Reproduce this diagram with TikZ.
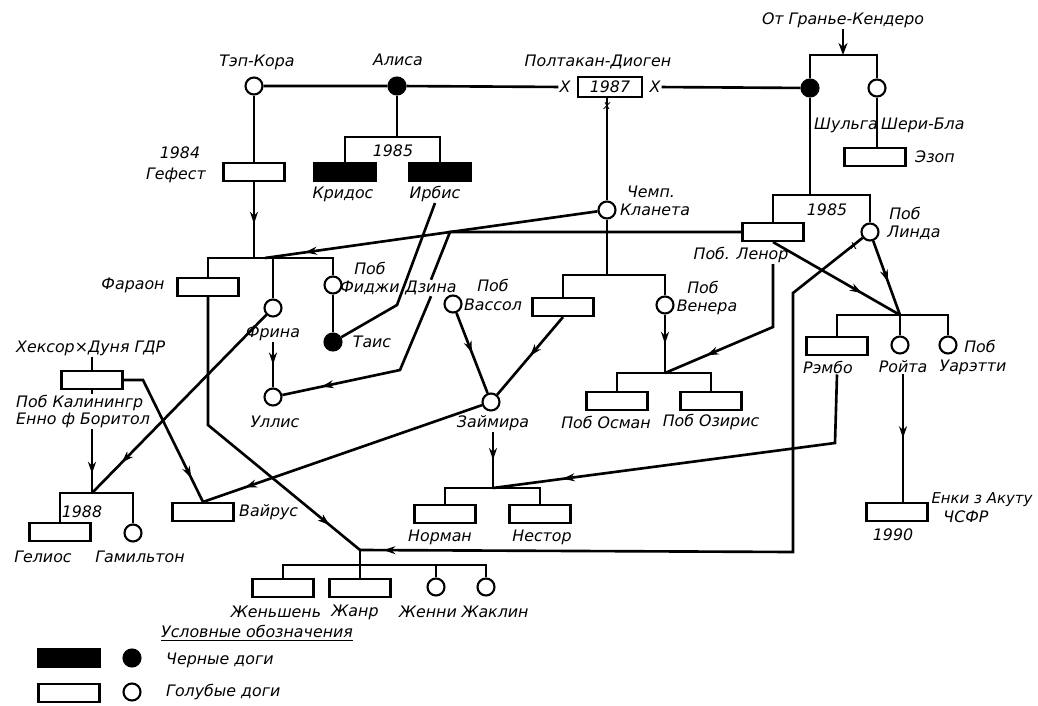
\documentclass[tikz,border=0pt]{standalone}
\usepackage{fontspec}
\setmainfont{DejaVu Sans}
\usetikzlibrary{arrows.meta,positioning,decorations.markings}

\tikzset{
  dog/.style={draw, line width=1.2pt, minimum width=1.22cm, minimum height=0.36cm, inner sep=0pt, fill=white, font=\fontsize{9}{10}\selectfont\itshape},
  bdog/.style={dog, fill=black},
  bitch/.style={circle, draw, line width=1.2pt, minimum size=0.34cm, inner sep=0pt, fill=white},
  bbitch/.style={bitch, fill=black},
  lbl/.style={font=\fontsize{9}{10}\selectfont\itshape, inner sep=0.5pt},
  pedline/.style={line width=1.5pt},
  midarr/.style={postaction={decorate}, decoration={markings, mark=at position #1 with {\arrow{Stealth[length=2.4mm,width=1.6mm]}}}},
  midarr/.default=0.5
}

\begin{document}
\begin{tikzpicture}[x=0.02cm, y=-0.02cm]
  \useasboundingbox (0,0) rectangle (1038,706);

  % top row
  \node[bitch] (tepkora) at (254,86) {};
  \node[bbitch] (alisa) at (397,86) {};
  \node[dog, minimum width=1.28cm, minimum height=0.4cm] (diogen) at (610,87) {1987};
  \node[lbl] (xL) at (565,87) {X};
  \node[lbl] (xR) at (655,87) {X};
  \node[bbitch] (shulga) at (810,88) {};
  \node[bitch] (sheri) at (877,88) {};
  \node[dog] (ezop) at (875,157) {};
  \node[lbl] (tepkoraL) at (257,62) {Тэп-Кора};
  \node[lbl] (alisaL) at (398,60) {Алиса};
  \node[lbl] (diogenL) at (598,62) {Полтакан-Диоген};
  \node[lbl] (granL) at (843,20) {От Гранье-Кендеро};
  \node[lbl, anchor=west] (shulgaL) at (813,125) {Шульга};
  \node[lbl, anchor=west] (sheriL) at (880,125) {Шери-Бла};
  \node[lbl, anchor=west] (ezopL) at (914,157) {Эзоп};
  \coordinate (brkL) at (810,55);
  \coordinate (brkM) at (843,55);
  \coordinate (brkR) at (877,55);

  % litter of Alisa
  \coordinate (jAlisa) at (397,137);
  \node[bdog] (kridos) at (345,172) {};
  \node[bdog] (irbis) at (440,172) {};
  \node[lbl] (alisaY) at (393,151) {1985};
  \node[lbl] (kridosL) at (343,194) {Кридос};
  \node[lbl] (irbisL) at (435,194) {Ирбис};

  % Tep-Kora line
  \node[dog] (gefest) at (254,172) {};
  \node[lbl] (gefestY) at (180,153) {1984};
  \node[lbl] (gefestL) at (176,175) {Гефест};
  \coordinate (jTep) at (254,258);
  \coordinate (jTepK) at (265,258);
  \node[dog] (faraon) at (208,287) {};
  \node[lbl] (faraonL) at (133,285) {Фараон};
  \node[bitch] (frina) at (273,308) {};
  \node[lbl] (frinaL) at (273,333) {Фрина};
  \node[bitch] (fidzhi) at (333,285) {};
  \node[lbl] (fidzhiP) at (370,268) {Поб};
  \node[lbl] (fidzhiL) at (370,288) {Фиджи};
  \node[bbitch] (tais) at (333,342) {};
  \node[lbl] (taisL) at (372,342) {Таис};
  \node[bitch] (ullis) at (273,397) {};
  \node[lbl] (ullisL) at (275,422) {Уллис};
  \node[lbl] (dzinaL) at (431,288) {Дзина};
  \coordinate (irbK) at (397,305);
  \coordinate (dzK) at (400,370);
  \coordinate (farK) at (208,425);

  % Klaneta line
  \node[bitch] (klaneta) at (607,210) {};
  \node[lbl] (klanetaP) at (651,192) {Чемп.};
  \node[lbl] (klanetaL) at (655,210) {Кланета};
  \node[lbl, font=\fontsize{7}{8}\selectfont\itshape, inner sep=0pt] (xB) at (607,106) {x};
  \coordinate (jKlan) at (607,275);
  \node[dog] (kbox) at (563,307) {};
  \node[bitch] (venera) at (665,305) {};
  \node[lbl] (veneraP) at (703,287) {Поб};
  \node[lbl] (veneraL) at (707,307) {Венера};
  \node[bitch] (vassol) at (453,304) {};
  \node[lbl] (vassolP) at (493,285) {Поб};
  \node[lbl] (vassolL) at (493,305) {Вассол};
  \node[bitch] (zaimira) at (491,402) {};
  \node[lbl] (zaimiraL) at (493,423) {Займира};
  \coordinate (jVen) at (665,373);
  \node[dog] (osman) at (617,401) {};
  \node[dog] (oziris) at (711,401) {};
  \node[lbl] (osmanL) at (606,422) {Поб Осман};
  \node[lbl] (ozirisL) at (711,422) {Поб Озирис};

  % Shulga line
  \coordinate (jShul) at (810,195);
  \node[lbl] (shulgaY) at (827,210) {1985};
  \node[dog] (lenor) at (773,232) {};
  \node[lbl] (lenorL) at (741,255) {Поб. Ленор};
  \node[bitch] (linda) at (870,232) {};
  \node[lbl] (lindaP) at (905,213) {Поб};
  \node[lbl] (lindaL) at (914,233) {Линда};
  \node[lbl, font=\fontsize{7}{8}\selectfont\itshape, inner sep=0pt] (xLinda) at (854,246) {x};
  \coordinate (lenK) at (450,232);
  \coordinate (lenK2) at (773,327);
  \coordinate (linK1) at (793,293);
  \coordinate (linK2) at (793,552);
  \coordinate (jRoi) at (900,315);
  \node[dog] (rembo) at (837,346) {};
  \node[bitch] (roita) at (900,345) {};
  \node[bitch] (uaretti) at (948,345) {};
  \node[lbl] (remboL) at (828,367) {Рэмбо};
  \node[lbl] (roitaL) at (903,367) {Ройта};
  \node[lbl] (uarettiP) at (980,346) {Поб};
  \node[lbl] (uarettiL) at (973,367) {Уарэтти};
  \coordinate (remK) at (835,443);
  \node[dog] (enki) at (897,512) {};
  \node[lbl] (enkiY) at (893,535) {1990};
  \node[lbl, font=\fontsize{8.5}{10}\selectfont\itshape] (enkiL) at (982,500) {Енки з Акуту};
  \node[lbl] (enkiC) at (966,517) {ЧСФР};

  % Heksor line
  \node[lbl, anchor=west] (heksorL) at (15,348) {Хексор×Дуня ГДР};
  \node[dog] (heksor) at (92,380) {};
  \node[lbl, anchor=west] (kalinL) at (15,403) {Поб Калинингр};
  \node[lbl, anchor=west] (ennoL) at (15,420) {Енно ф Боритол};
  \coordinate (hexK) at (143,380);
  \coordinate (jGel) at (92,493);
  \node[dog] (gelios) at (60,532) {};
  \node[lbl] (geliosY) at (82,512) {1988};
  \node[bitch] (gamilton) at (133,533) {};
  \node[lbl] (geliosL) at (43,557) {Гелиос};
  \node[lbl] (gamiltonL) at (140,557) {Гамильтон};
  \node[dog] (vairus) at (203,512) {};
  \node[lbl, anchor=west] (vairusL) at (238,512) {Вайрус};

  % litters at the bottom
  \coordinate (jNor) at (493,488);
  \node[dog] (norman) at (445,514) {};
  \node[dog] (nestor) at (540,514) {};
  \node[lbl] (normanL) at (440,537) {Норман};
  \node[lbl] (nestorL) at (542,537) {Нестор};
  \coordinate (jZh) at (360,550);
  \coordinate (jZb) at (360,565);
  \node[dog] (zhenshen) at (283,588) {};
  \node[dog] (zhanr) at (360,588) {};
  \node[bitch] (zhenni) at (436,587) {};
  \node[bitch] (zhaklin) at (486,587) {};
  \node[lbl] (zhenshenL) at (276,612) {Женьшень};
  \node[lbl] (zhanrL) at (355,612) {Жанр};
  \node[lbl] (zhenniL) at (428,612) {Женни};
  \node[lbl] (zhaklinL) at (495,612) {Жаклин};

  % legend
  \node[lbl] (legT) at (257,633) {\underline{Условные обозначения}};
  \node[bdog] (legBB) at (69,658) {};
  \node[bbitch] (legBC) at (132,658) {};
  \node[lbl, anchor=west] (legBL) at (165,660) {Черные доги};
  \node[dog] (legWB) at (69,693) {};
  \node[bitch] (legWC) at (132,692) {};
  \node[lbl, anchor=west] (legWL) at (165,692) {Голубые доги};

  % connectors
  \draw[pedline] (tepkora) -- (alisa) -- (xL);
  \draw[pedline] (xR) -- (shulga);
  \draw[pedline] (klaneta.north |- diogen.south) -- (klaneta.north);
  \draw[pedline] (shulga.north) -- (brkL) -- (brkR) -- (sheri.north);
  \draw[pedline, -{Stealth[length=2.4mm,width=1.8mm]}] (granL.south) -- (brkM);
  \draw[pedline] (sheri.south) -- (sheri.south |- ezop.north);

  \draw[pedline] (alisa) -- (jAlisa);
  \draw[pedline] (kridos.north) -- ++(0,-25) -| (irbis.north);

  \draw[pedline] (tepkora) -- (gefest);
  \draw[pedline, midarr=0.55] (gefest) -- (jTep);
  \draw[pedline] (faraon.north) -- (faraon.north |- jTep) -- (fidzhi.north |- jTep) -- (fidzhi.north);
  \draw[pedline] (frina.north) -- (frina.north |- jTep);
  \draw[pedline] (fidzhi) -- (tais);
  \draw[pedline] (irbisL.south) -- (irbK) -- (tais);
  \draw[pedline, midarr] (frinaL.south) -- (ullis);
  \draw[pedline] (lenor.west) -- (lenK) -- (dzinaL.north);
  \draw[pedline, midarr=0.8] (dzinaL.south) -- (dzK) -- (ullis);
  \draw[pedline, midarr=0.88] (klaneta) -- (jTepK);
  \draw[pedline, midarr=0.88] (faraon.south) -- (farK) -- (jZh);

  \draw[pedline] (klaneta.south) -- (jKlan);
  \draw[pedline] (kbox.north) -- (kbox.north |- jKlan) -- (venera.north |- jKlan) -- (venera.north);
  \draw[pedline, midarr] (kbox.south) -- (zaimira);
  \draw[pedline, midarr] (vassol) -- (zaimira);
  \draw[pedline, midarr] (venera) -- (jVen);
  \draw[pedline] (osman.north) -- (osman.north |- jVen) -- (oziris.north |- jVen) -- (oziris.north);
  \draw[pedline, midarr=0.75] (lenorL.south -| lenor) -- (lenK2) -- (jVen);

  \draw[pedline] (shulga) -- (jShul);
  \draw[pedline] (lenor.north) -- (lenor.north |- jShul) -- (linda.north |- jShul) -- (linda.north);
  \draw[pedline, midarr=0.7] (lenor.south) -- (jRoi);
  \draw[pedline, midarr=0.55] (linda) -- (jRoi);
  \draw[pedline] (rembo.north) -- (rembo.north |- jRoi) -- (uaretti.north |- jRoi) -- (uaretti.north);
  \draw[pedline] (jRoi) -- (roita.north);
  \draw[pedline, midarr] (roitaL.south) -- (roitaL.south |- enki.north);
  \draw[pedline, midarr=0.97] (linda) -- (linK1) -- (linK2) -- (jZh);
  \draw[pedline, midarr=0.83] (remboL.south -| rembo) -- (remK) -- (jNor);

  \draw[pedline, midarr] (zaimiraL.south) -- (jNor);
  \draw[pedline] (norman.north) -- (norman.north |- jNor) -- (nestor.north |- jNor) -- (nestor.north);
  \draw[pedline, midarr=0.85] (zaimira) -- (vairus.north);

  \draw[pedline] (heksorL.south -| heksor) -- (heksor.north);
  \draw[pedline] (heksor.south) -- (heksor.south |- kalinL.north);
  \draw[pedline, midarr=0.7] (ennoL.south -| heksor) -- (jGel);
  \draw[pedline, midarr=0.83] (heksor.east) -- (hexK) -- (vairus.north);
  \draw[pedline, midarr=0.83] (frina) -- (jGel);
  \draw[pedline] (gelios.north) -- (gelios.north |- jGel) -- (gamilton.north |- jGel) -- (gamilton.north);

  \draw[pedline] (jZh) -- (zhanr.north);
  \draw[pedline] (zhenshen.north) -- (zhenshen.north |- jZb) -- (zhaklin.north |- jZb) -- (zhaklin.north);
  \draw[pedline] (zhenni.north) -- (zhenni.north |- jZb);
\end{tikzpicture}
\end{document}
